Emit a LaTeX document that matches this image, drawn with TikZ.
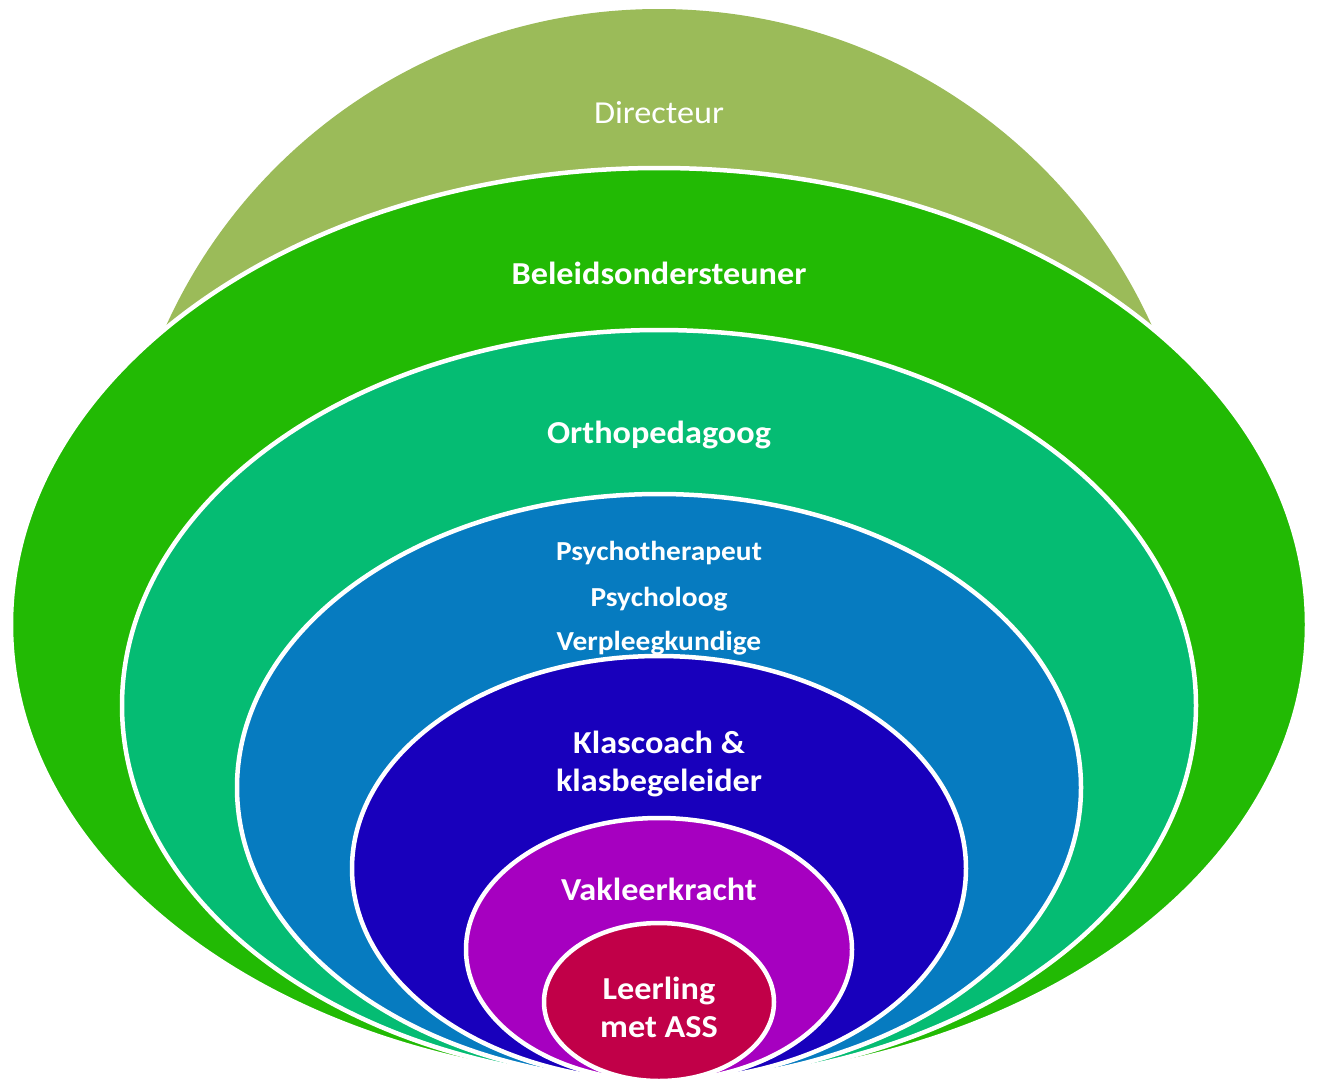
\documentclass[tikz,border=0pt]{standalone}
\usepackage{fontspec}
\setmainfont{Carlito}[FakeStretch=1.07]
\definecolor{direc}{HTML}{9BBB59}
\definecolor{beleid}{HTML}{22BA04}
\definecolor{ortho}{HTML}{05BC73}
\definecolor{psych}{HTML}{067BC0}
\definecolor{klas}{HTML}{1800BC}
\definecolor{vak}{HTML}{A600C0}
\definecolor{leer}{HTML}{C10048}

\begin{document}
\begin{tikzpicture}[every node/.style={align=center,text=white},x=1pt,y=-1pt]
  \tikzset{
    ring/.style={draw=white,line width=4.5pt}, % white border round each layer
    role/.style={font=\fontsize{32}{38}\selectfont\bfseries},
    smallrole/.style={font=\fontsize{27.5}{30}\selectfont\bfseries}
  }
  \useasboundingbox (0,0) rectangle (1317,1082);

  \begin{scope}
    \clip (0,0) rectangle (1317,1082);
    \fill[direc] (659,545) ellipse [x radius=540,y radius=536];
    \node[font=\fontsize{32}{38}\selectfont] (directeur) at (659,113) {Directeur};

    \path[ring,fill=beleid] (659,624.5) ellipse [x radius=648,y radius=456.5];
    \node[role] (beleid) at (659,273) {Beleidsondersteuner};

    \path[ring,fill=ortho] (659,705.5) ellipse [x radius=537,y radius=375.5];
    \node[role] (ortho) at (659,435) {Orthopedagoog};

    \path[ring,fill=psych] (659,787.5) ellipse [x radius=422,y radius=293.5];
    \node[smallrole] (psychoth) at (659,553) {Psychotherapeut};
    \node[smallrole] (psycholoog) at (659,599) {Psycholoog};
    \node[smallrole] (verpleeg) at (659,643) {Verpleegkundige};

    \path[ring,fill=klas] (659,868.5) ellipse [x radius=307,y radius=212.5];
    \node[role] (klascoach) at (659,764) {Klascoach \&\\klasbegeleider};

    \path[ring,fill=vak] (659,949.5) ellipse [x radius=193,y radius=131.5];
    \node[role] (vakleer) at (659,889) {Vakleerkracht};

    \path[ring,fill=leer] (659,1002) ellipse [x radius=115,y radius=79];
    \node[role] (leerling) at (659,1007) {Leerling\\met ASS};
  \end{scope}
\end{tikzpicture}
\end{document}
